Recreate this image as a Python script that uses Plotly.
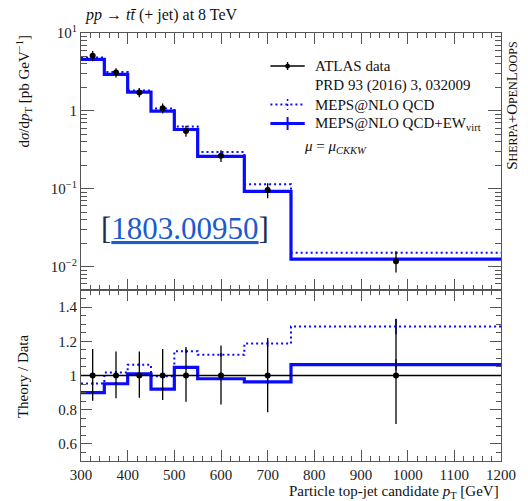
import plotly.graph_objects as go

# Binning in particle top-jet candidate pT [GeV]
bin_edges = [300, 350, 400, 450, 500, 550, 650, 750, 1200]
bin_centers = [325, 375, 425, 475, 525, 600, 700, 975]

# ATLAS data, dsigma/dpT [pb/GeV], with relative uncertainties
data_vals = [5.1, 3.1, 1.72, 1.08, 0.55, 0.265, 0.096, 0.0117]
data_rel_up = [0.155, 0.14, 0.14, 0.155, 0.167, 0.175, 0.22, 0.33]
data_rel_dn = [0.147, 0.133, 0.13, 0.143, 0.153, 0.17, 0.215, 0.284]

# MEPS@NLO predictions [pb/GeV]
qcd_vals = [4.86, 3.156, 1.828, 1.076, 0.628, 0.297, 0.1139, 0.01505]
qcd_ew_vals = [4.59, 2.95, 1.737, 0.994, 0.576, 0.26, 0.0924, 0.01244]
# MC statistical uncertainties (relative)
qcd_rel_err = [0.008, 0.008, 0.008, 0.01, 0.01, 0.01, 0.015, 0.035]
qcd_ew_rel_err = [0.008, 0.008, 0.008, 0.01, 0.01, 0.01, 0.015, 0.03]

y_tick_vals = [0.01, 0.1, 1, 10]
y_tick_text = ["10<sup>\u22122</sup>", "10<sup>\u22121</sup>", "1", "10<sup>1</sup>"]
r_tick_vals = [0.6, 0.8, 1.0, 1.2, 1.4]
r_tick_text = ["0.6", "0.8", "1", "1.2", "1.4"]

legend_labels = ["ATLAS data", "PRD 93 (2016) 3, 032009", "MEPS@NLO QCD",
                 "MEPS@NLO QCD+EW<sub>virt</sub>"]

BLUE = "#0a0aff"
FONT = "Liberation Serif"
AX = "#555555"
DOT = "2px,3px"


def step(vals):
    return bin_edges, list(vals) + [vals[-1]]


data_ratio = [1.0] * len(data_vals)
qcd_ratio = [m / d for m, d in zip(qcd_vals, data_vals)]
qcd_ew_ratio = [m / d for m, d in zip(qcd_ew_vals, data_vals)]

fig = go.Figure()


def add_models(series, xa, ya):
    for vals, rel, dash, width in series:
        xs, ys = step(vals)
        fig.add_trace(go.Scatter(x=xs, y=ys, mode="lines", line_shape="hv",
                                 line=dict(color=BLUE, width=width, dash=dash),
                                 xaxis=xa, yaxis=ya, showlegend=False))
        fig.add_trace(go.Scatter(x=bin_centers, y=vals, mode="markers",
                                 marker=dict(size=1, opacity=0),
                                 error_y=dict(type="data", array=[v * r for v, r in zip(vals, rel)],
                                              color=BLUE, thickness=1.5, width=0),
                                 xaxis=xa, yaxis=ya, showlegend=False))


# ---------- main panel ----------
add_models([(qcd_vals, qcd_rel_err, DOT, 2), (qcd_ew_vals, qcd_ew_rel_err, None, 3.2)], "x2", "y2")
fig.add_trace(go.Scatter(
    x=bin_centers, y=data_vals, mode="markers",
    marker=dict(color="black", size=6),
    error_y=dict(type="data", symmetric=False,
                 array=[v * r for v, r in zip(data_vals, data_rel_up)],
                 arrayminus=[v * r for v, r in zip(data_vals, data_rel_dn)],
                 color="black", thickness=1.3, width=0),
    xaxis="x2", yaxis="y2", showlegend=False))

# ---------- ratio panel ----------
fig.add_shape(type="line", xref="x", yref="y", x0=bin_edges[0], x1=bin_edges[-1],
              y0=1, y1=1, line=dict(color="black", width=1.3), layer="above")
add_models([(qcd_ratio, qcd_rel_err, DOT, 2), (qcd_ew_ratio, qcd_ew_rel_err, None, 3.2)], "x", "y")
fig.add_trace(go.Scatter(
    x=bin_centers, y=data_ratio, mode="markers",
    marker=dict(color="black", size=6),
    error_y=dict(type="data", symmetric=False, array=data_rel_up, arrayminus=data_rel_dn,
                 color="black", thickness=1.3, width=0),
    xaxis="x", yaxis="y", showlegend=False))

axis_common = dict(showline=True, linecolor=AX, linewidth=1, mirror="allticks",
                   ticks="inside", tickcolor=AX, showgrid=False, zeroline=False,
                   tickfont=dict(family=FONT, size=15, color="#222"))

split = 171 / 428

fig.update_layout(
    width=528, height=501,
    margin=dict(l=81, r=19, t=33, b=40),
    paper_bgcolor="white", plot_bgcolor="white",
    font=dict(family=FONT, size=15, color="#111"),
    showlegend=False,
    xaxis=dict(domain=[0, 1], anchor="y", range=[300, 1200], dtick=100, ticklen=11,
               minor=dict(dtick=20, ticklen=5, ticks="inside", tickcolor=AX),
               **axis_common),
    yaxis=dict(domain=[0, split], anchor="x", range=[0.5, 1.5],
               tickvals=r_tick_vals, ticktext=r_tick_text, ticklen=11,
               minor=dict(dtick=0.05, tick0=0.5, ticklen=5, ticks="inside", tickcolor=AX),
               **axis_common),
    xaxis2=dict(domain=[0, 1], anchor="y2", range=[300, 1200], dtick=100, ticklen=11,
                showticklabels=False, matches="x",
                minor=dict(dtick=20, ticklen=5, ticks="inside", tickcolor=AX),
                **axis_common),
    yaxis2=dict(domain=[split, 1], anchor="x2", type="log", range=[-2.301, 1],
                tickvals=y_tick_vals, ticktext=y_tick_text, ticklen=13,
                minor=dict(dtick="D1", ticklen=6, ticks="inside", tickcolor=AX),
                **axis_common),
)

px_x = lambda p: (p - 81) / 428
px_y = lambda p: 1 - (p - 33) / 428

# ---------- legend (symbols + labels) ----------
lx0, lx1, lxm = px_x(274), px_x(309), px_x(291.5)
row_y = [66, 85.5, 104.5, 123.5]


def pline(x0, y0, x1, y1, **line):
    fig.add_shape(type="line", xref="paper", yref="paper",
                  x0=x0, y0=y0, x1=x1, y1=y1, line=line)


pline(lx0, px_y(row_y[0]), lx1, px_y(row_y[0]), color="black", width=1.3)
fig.add_shape(type="circle", xref="paper", yref="paper",
              x0=px_x(289), x1=px_x(294), y0=px_y(row_y[0] - 2.5), y1=px_y(row_y[0] + 2.5),
              fillcolor="black", line=dict(color="black", width=0))
pline(lxm, px_y(row_y[0] - 4), lxm, px_y(row_y[0] + 4), color="black", width=1.3)
pline(lx0, px_y(row_y[2]), lx1, px_y(row_y[2]), color=BLUE, width=2, dash=DOT)
pline(lxm, px_y(row_y[2] - 5.5), lxm, px_y(row_y[2] + 5.5), color=BLUE, width=1.5, dash=DOT)
pline(lx0, px_y(row_y[3]), lx1, px_y(row_y[3]), color=BLUE, width=3)
pline(lxm, px_y(row_y[3] - 6.5), lxm, px_y(row_y[3] + 6.5), color=BLUE, width=2)

annotations = [dict(x=px_x(317), y=px_y(ry), xanchor="left", yanchor="middle",
                    text=t, font=dict(size=15)) for t, ry in zip(legend_labels, row_y)]
annotations += [
    dict(x=px_x(83), y=px_y(15), xanchor="left", yanchor="middle",
         text="<i>pp</i> \u2192 <i>t\u0074\u0304</i> (+ jet) at 8 TeV", font=dict(size=16)),
    dict(x=px_x(22), y=px_y(33), xanchor="center", yanchor="top", textangle=-90,
         text="d<i>\u03c3</i>/d<i>p</i><sub>T</sub> [pb GeV<sup>\u22121</sup>]", font=dict(size=15)),
    dict(x=px_x(22), y=px_y(376), xanchor="center", yanchor="middle", textangle=-90,
         text="Theory / Data", font=dict(size=15)),
    dict(x=1, y=px_y(492), xanchor="right", yanchor="middle",
         text="Particle top-jet candidate <i>p</i><sub>T</sub> [GeV]", font=dict(size=15)),
    dict(x=px_x(306), y=px_y(147), xanchor="left", yanchor="middle",
         text="<i>\u03bc</i> = <i>\u03bc</i><sub><i>CKKW</i></sub>", font=dict(size=15)),
    dict(x=px_x(520), y=px_y(106), xanchor="center", yanchor="middle", textangle=-90,
         text=("S<span style='font-size:12px'>HERPA</span>+O<span style='font-size:12px'>PEN</span>"
               "L<span style='font-size:12px'>OOPS</span>"), font=dict(size=15)),
    dict(x=px_x(99), y=px_y(228), xanchor="left", yanchor="middle",
         text=("<span style='color:#1c2f4f'>[</span><u>1803.00950</u>"
               "<span style='color:#1c2f4f'>]</span>"),
         font=dict(size=31, color="#1a5bd0")),
]
for a in annotations:
    a.update(xref="paper", yref="paper", showarrow=False)
    fig.add_annotation(**a)

fig.write_html("out.html")
